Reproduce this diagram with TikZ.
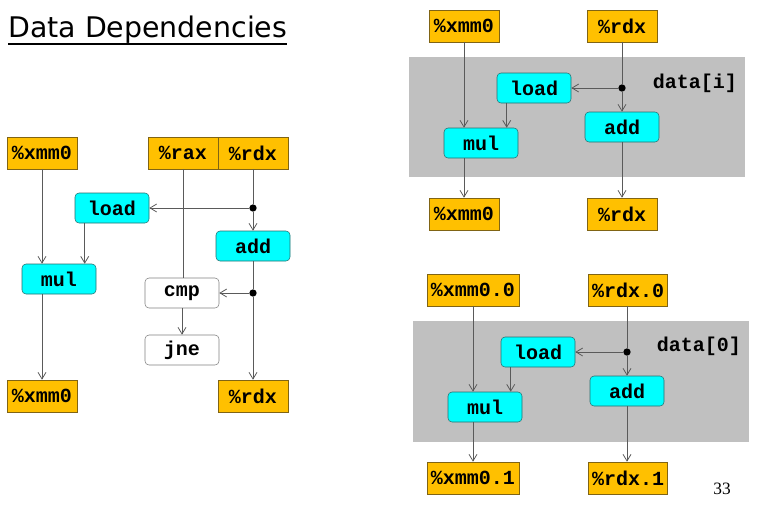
\documentclass[tikz,border=0pt]{standalone}
\usepackage{fontspec}
\setmainfont{Liberation Serif}
\setmonofont{Liberation Mono}
\newfontfamily\titlefont{DejaVu Sans}
\usetikzlibrary{arrows.meta, positioning}

\definecolor{regfill}{RGB}{255,192,0}
\definecolor{regline}{RGB}{128,100,20}
\definecolor{opfill}{RGB}{0,255,255}
\definecolor{opline}{RGB}{40,110,110}
\definecolor{wire}{RGB}{90,90,90}
\definecolor{band}{RGB}{192,192,192}

\tikzset{
  reg/.style={draw=regline, fill=regfill, minimum width=52.5pt, minimum height=24pt,
    inner sep=2pt, font=\fontsize{15}{18}\selectfont\ttfamily\bfseries},
  op/.style={draw=opline, fill=opfill, rounded corners=3pt, minimum width=55.5pt,
    minimum height=22.5pt, inner sep=2pt, font=\fontsize{15}{18}\selectfont\ttfamily\bfseries},
  opw/.style={op, draw=gray, fill=white},
  dot/.style={circle, fill=black, inner sep=0pt, minimum size=5.5pt},
  lbl/.style={inner sep=0pt, font=\fontsize{15}{18}\selectfont\ttfamily\bfseries},
  ln/.style={draw=wire, line width=0.6pt},
  lnk/.style={ln, -{Straight Barb[length=5pt, width=6pt]}}
}

\begin{document}
\begin{tikzpicture}[x=0.75pt, y=-0.75pt]
  \useasboundingbox[fill=white] (0,0) rectangle (757,511);

  \node[anchor=base west, inner sep=0pt, font=\titlefont\fontsize{21.3}{25}\selectfont] (title) at (8,37) {Data Dependencies};
  \draw[line width=1.1pt] ([yshift=-5.3pt]title.base west) to ([yshift=-5.3pt]title.base east);

  %partie gauche
  \node[reg] (xmmA) at (42,153) {\%xmm0};
  \node[reg] (raxA) at (183,153) {\%rax};
  \node[reg] (rdxA) at (253,153) {\%rdx};
  \node[op]  (loadA) at (112,208) {load};
  \node[op]  (addA) at (253,246) {add};
  \node[op]  (mulA) at (59,279) {mul};
  \node[opw] (cmpA) at (182,293) {cmp};
  \node[opw] (jneA) at (182,350) {jne};
  \node[reg] (xmmB) at (42,396) {\%xmm0};
  \node[reg] (rdxB) at (253,396) {\%rdx};
  \node[dot] (dA) at (253,208) {};
  \node[dot] (dB) at (253,293) {};
  \coordinate (lmA) at ([xshift=7.5pt]loadA.south west);

  \draw[lnk] (xmmA) to (xmmA |- mulA.north);
  \draw[lnk] (lmA) to (lmA |- mulA.north);
  \draw[lnk] (xmmB |- mulA.south) to (xmmB);
  \draw[ln]  (rdxA) to (dA);
  \draw[lnk] (dA) to (loadA);
  \draw[lnk] (dA) to (addA);
  \draw[ln]  (addA) to (dB);
  \draw[lnk] (dB) to (cmpA);
  \draw[lnk] (dB) to (rdxB);
  \draw[ln]  (raxA) to (raxA |- cmpA.north);
  \draw[lnk] (cmpA) to (jneA);

  %partie droite, haut
  \fill[band] (409,57) rectangle (745,177);
  \node[reg] (xmmC) at (464,26) {\%xmm0};
  \node[reg] (rdxC) at (622,26) {\%rdx};
  \node[op]  (loadC) at (534,88) {load};
  \node[op]  (addC) at (622,127) {add};
  \node[op]  (mulC) at (481,143) {mul};
  \node[reg] (xmmD) at (464,214) {\%xmm0};
  \node[reg] (rdxD) at (622,214) {\%rdx};
  \node[dot] (dC) at (622,88) {};
  \node[lbl] (dataI) at (695,83) {data[i]};
  \coordinate (lmC) at ([xshift=7.5pt]loadC.south west);

  \draw[lnk] (xmmC) to (xmmC |- mulC.north);
  \draw[lnk] (lmC) to (lmC |- mulC.north);
  \draw[lnk] (xmmD |- mulC.south) to (xmmD);
  \draw[ln]  (rdxC) to (dC);
  \draw[lnk] (dC) to (loadC);
  \draw[lnk] (dC) to (addC);
  \draw[lnk] (addC) to (rdxD);

  %partie droite, bas
  \fill[band] (413,321) rectangle (749,442);
  \node[reg, minimum width=69pt] (xmmE) at (473,290) {\%xmm0.0};
  \node[reg, minimum width=59pt] (rdxE) at (628,290) {\%rdx.0};
  \node[op]  (loadE) at (538,352) {load};
  \node[op]  (addE) at (627,391) {add};
  \node[op]  (mulE) at (485,407) {mul};
  \node[reg, minimum width=69pt] (xmmF) at (473,478) {\%xmm0.1};
  \node[reg, minimum width=59pt] (rdxF) at (628,478) {\%rdx.1};
  \node[dot] (dE) at (627,352) {};
  \node[lbl] (dataO) at (699,346) {data[0]};
  \coordinate (lmE) at ([xshift=7.5pt]loadE.south west);

  \draw[lnk] (xmmE) to (xmmE |- mulE.north);
  \draw[lnk] (lmE) to (lmE |- mulE.north);
  \draw[lnk] (xmmF |- mulE.south) to (xmmF);
  \draw[ln]  (dE |- rdxE.south) to (dE);
  \draw[lnk] (dE) to (loadE);
  \draw[lnk] (dE) to (addE);
  \draw[lnk] (addE) to (addE |- rdxF.north);

  \node[inner sep=0pt, font=\fontsize{13}{15}\selectfont] (page) at (722,489) {33};
\end{tikzpicture}
\end{document}
